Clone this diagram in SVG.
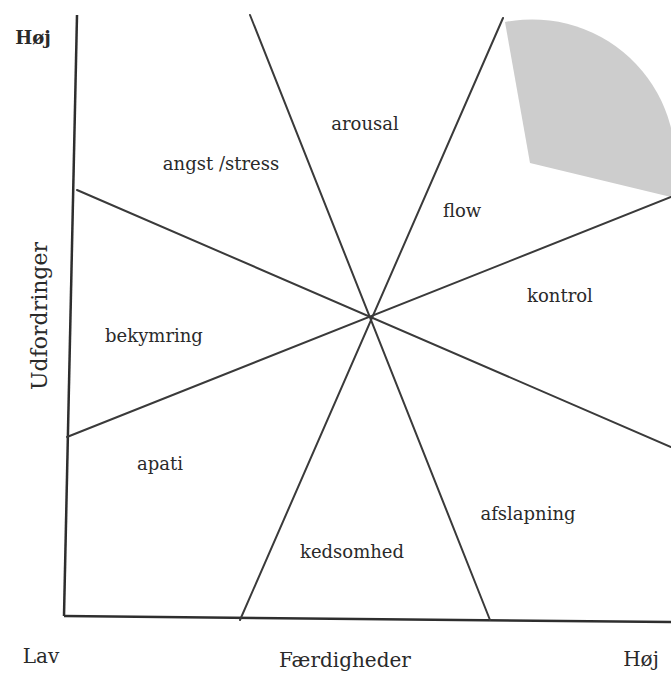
<svg xmlns="http://www.w3.org/2000/svg" width="671" height="675" viewBox="0 0 671 675">
<style>
.ln{stroke:#3a3a3a;stroke-width:2;fill:none;stroke-linecap:round}
.ax{stroke:#2e2e2e;stroke-width:2.5;fill:none}
.lb{font-family:"DejaVu Serif","Liberation Serif",serif;font-size:18px;fill:#2a2a2a;text-anchor:middle}
.big{font-size:20px}
</style>
<rect width="671" height="675" fill="#ffffff"/>
<g id="flow-zone">
<path d="M505,22 A143,143 0 0 1 671,197 L530,163 Z" fill="#cdcdcd"/>
</g>
<g id="connectors">
<line class="ax" x1="77" y1="15" x2="64" y2="616"/>
<line class="ax" x1="64" y1="616" x2="671" y2="622"/>
<line class="ln" x1="250" y1="15" x2="490" y2="620"/>
<line class="ln" x1="503" y1="18" x2="240" y2="620"/>
<line class="ln" x1="77" y1="190" x2="671" y2="447"/>
<line class="ln" x1="67" y1="437" x2="671" y2="197"/>
</g>
<g id="arousal"><text class="lb" x="365" y="130">arousal</text></g>
<g id="angst"><text class="lb" x="221" y="170">angst /stress</text></g>
<g id="flow"><text class="lb" x="462" y="217">flow</text></g>
<g id="kontrol"><text class="lb" x="560" y="302">kontrol</text></g>
<g id="bekymring"><text class="lb" x="154" y="342">bekymring</text></g>
<g id="apati"><text class="lb" x="160" y="470">apati</text></g>
<g id="afslapning"><text class="lb" x="528" y="520">afslapning</text></g>
<g id="kedsomhed"><text class="lb" x="352" y="558">kedsomhed</text></g>
<g id="axis-labels">
<text class="lb" x="33" y="44" style="font-weight:bold">Høj</text>
<text class="lb big" style="font-size:22px" transform="translate(47,316) rotate(-90)">Udfordringer</text>
<text class="lb big" x="41" y="663">Lav</text>
<text class="lb big" x="345" y="667">Færdigheder</text>
<text class="lb big" x="641" y="666">Høj</text>
</g>
</svg>
